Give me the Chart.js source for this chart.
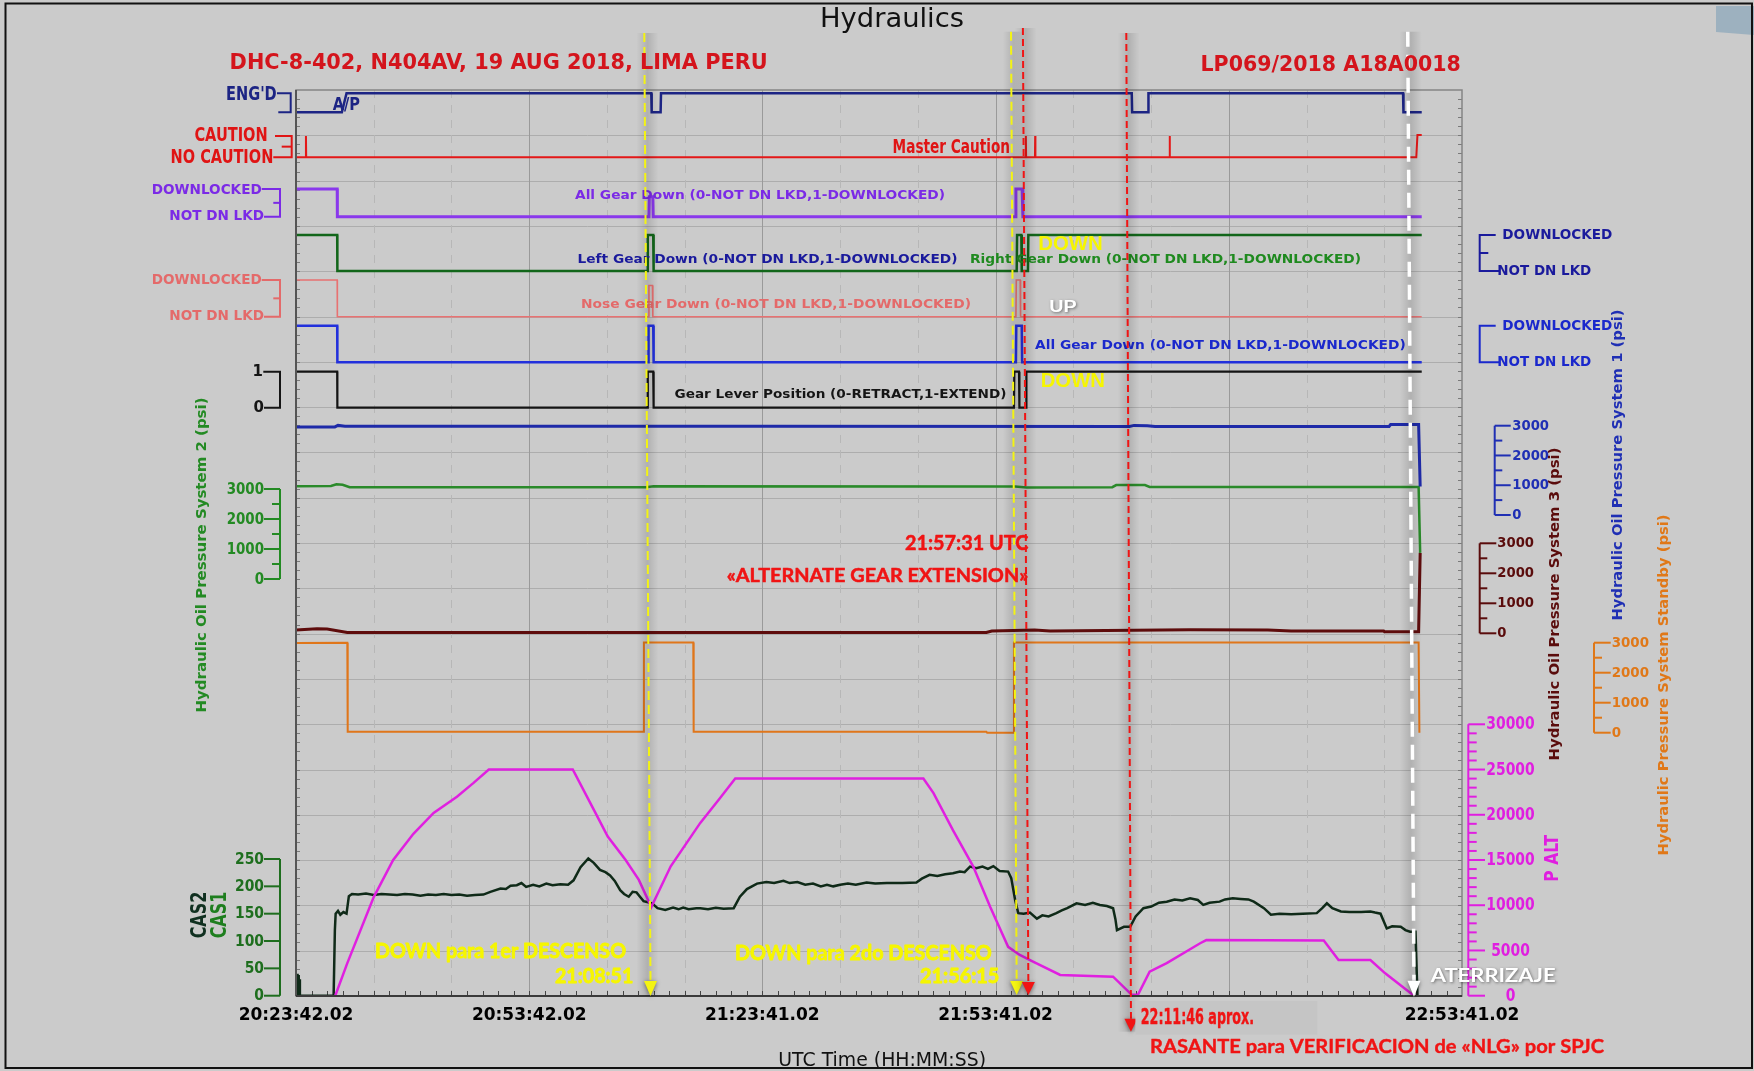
<!DOCTYPE html>
<html>
<head>
<meta charset="utf-8">
<title>Hydraulics</title>
<script src="https://cdn.jsdelivr.net/npm/chart.js@4.4.1/dist/chart.umd.min.js"></script>
<style>
  html, body { margin: 0; padding: 0; background: #cbcbcb; }
  canvas { display: block; }
</style>
</head>
<body>
<canvas id="hydChart" width="1754" height="1071"></canvas>
<script>
// ---- data: time in minutes after 20:23:42.02 UTC ----
const tickMinutes = [0, 30, 59.98, 89.98, 119.98, 149.98];
const tickLabels = ['20:23:42.02', '20:53:42.02', '21:23:41.02', '21:53:41.02', '22:23:41.02', '22:53:41.02'];

// discrete channels [minute, state]
const apEngaged = [[0,0],[5.9,0],[6.5,1],[45.7,1],[45.75,0],[46.9,0],[46.95,1],[107.5,1],[107.55,0],[109.6,0],[109.65,1],[142.4,1],[142.45,0],[144.8,0]];
const masterCaution = [[0,0],[1.25,0],[1.28,1],[1.31,0],[93.85,0],[93.88,1],[93.91,0],[95.05,0],[95.08,1],[95.11,0],[112.35,0],[112.38,1],[112.41,0],[144.1,0],[144.25,1.05],[144.8,1.05]];
const allGearDownA = [[0,1],[5.3,1],[5.32,0],[45.4,0],[45.45,0.72],[45.9,0.72],[45.95,0],[92.5,0],[92.6,1],[93.4,1],[93.5,0],[144.8,0]];
const leftGearDown = [[0,1],[5.3,1],[5.32,0],[45.2,0],[45.25,1],[45.95,1],[46.0,0],[92.7,0],[92.75,1],[93.3,1],[93.35,0],[94.15,0],[94.2,1],[144.8,1]];
const noseGearDown = [[0,1],[5.3,1],[5.32,0],[45.35,0],[45.4,0.85],[45.85,0.85],[45.9,0],[92.6,0],[92.65,1],[93.15,1],[93.2,0],[144.8,0]];
const allGearDownB = [[0,1],[5.3,1],[5.32,0],[45.3,0],[45.35,1],[45.95,1],[46.0,0],[92.6,0],[92.65,1],[93.35,1],[93.4,0],[144.8,0]];
const gearLever = [[0,1],[5.3,1],[5.32,0],[45.2,0],[45.25,1],[45.95,1],[46.0,0],[92.35,0],[92.4,1],[93.0,1],[93.05,0],[93.9,0],[93.95,1],[144.8,1]];

// hydraulic pressures (psi)
const sys1Pressure = [[0,2960],[5.0,2960],[5.4,3010],[6.3,2980],[60,2980],[107.2,2975],[107.8,3010],[109.5,3000],[110.5,2975],[140.6,2975],[140.8,3040],[144.4,3040],[144.6,960]];
const sys2Pressure = [[0,3090],[4.5,3100],[5.2,3160],[6.0,3140],[6.9,3060],[45,3060],[46,3090],[92.5,3080],[94,3050],[105,3060],[105.5,3130],[109.2,3130],[109.8,3070],[144.4,3070],[144.6,870]];
const sys3Pressure = [[0,110],[2.7,150],[4.0,140],[6.6,25],[88.8,25],[89.5,75],[95,110],[97,80],[115,120],[125,110],[128,80],[139.9,80],[140,55],[144.4,55],[144.6,2680]];
const standbyPressure = [[0,2990],[6.6,3000],[6.65,30],[44.7,30],[44.75,3010],[51.1,3010],[51.15,30],[88.8,30],[88.9,0],[92.3,0],[92.35,3010],[144.4,3010],[144.5,0]];

// pressure altitude (ft) and airspeed (kt)
const pressureAltitude = [[5.05,0],[6.6,3600],[10.0,10900],[12.5,15000],[15.1,17900],[17.7,20200],[20.7,22000],[22.8,23500],[24.8,25000],[35.6,25000],[38.4,20400],[40.1,17600],[42.4,15000],[44.1,12800],[45.7,9800],[48.2,14300],[52.0,19100],[54.5,21800],[56.5,24000],[80.7,24000],[82.0,22400],[84.5,18300],[87.1,14300],[89.3,9800],[91.6,5400],[93.1,4500],[94.8,3760],[98.3,2300],[105.1,2100],[107.5,100],[108.3,100],[109.8,2650],[112.0,3600],[116.3,5800],[117.1,6150],[132.2,6100],[134.1,3950],[138.2,3950],[140.1,2470],[143.8,0]];
const airspeed = [[0,0],[0.12,0],[0.15,40],[0.2,0],[0.3,38],[0.35,0],[0.45,30],[0.5,0],[4.84,0],[5.0,120],[5.1,150],[5.4,155],[5.7,148],[6.1,153],[6.5,150],[6.8,182],[7.2,186],[8,185],[9,187],[10,184],[11,186],[12,185],[13,184],[14,186],[15,185],[16,183],[17,185],[18,184],[19,186],[20,184],[21,185],[22,183],[23,184],[24.1,185],[25,190],[26.3,196],[27,195],[27.6,201],[28.4,202],[29,206],[29.6,199],[30.5,203],[31.3,200],[32.2,205],[33,202],[34,204],[35,203],[35.7,211],[36.6,235],[37.6,251],[38.3,243],[39.1,230],[39.8,226],[40.4,220],[41.0,210],[41.7,193],[42.2,186],[42.8,181],[43.3,190],[43.8,189],[44.3,180],[44.7,173],[45.3,171],[45.8,169],[46.5,160],[47.5,157],[48.5,161],[49.2,158],[49.8,161],[50.5,158],[51.5,160],[52.0,160],[53,158],[54,161],[55,159],[56.3,160],[57.1,181],[58,195],[59.3,205],[60.5,208],[61.5,206],[62.7,210],[63.5,206],[64.5,208],[65.5,203],[66.5,205],[67.5,200],[68.3,203],[69.1,200],[70,203],[71,205],[72,203],[73.4,207],[74.5,205],[76,206],[78,206],[79.8,207],[80.5,214],[81.5,221],[82.5,219],[83.5,222],[84.5,224],[85.4,227],[86.0,226],[86.7,236],[87.5,233],[88.3,236],[89,232],[89.7,237],[90.5,228],[91.6,227],[92.0,215],[92.5,175],[92.9,151],[93.6,150],[94.4,152],[95.3,141],[96,147],[96.8,145],[97.8,151],[98.5,156],[99.2,160],[100.4,169],[101.5,166],[102.5,170],[103.4,166],[104.3,164],[105.1,160],[105.4,140],[105.6,120],[106.5,126],[107.3,126],[108.0,145],[109.0,160],[110,163],[111,170],[112,172],[113,176],[114,174],[115,178],[116,175],[116.7,166],[117.5,170],[118.8,172],[119.5,176],[120.5,178],[121.5,177],[122.5,176],[123.2,172],[124.5,160],[125.4,148],[126.5,150],[128,149],[129.5,150],[131.3,151],[132.0,160],[132.6,169],[133.3,160],[134.4,154],[135.5,153],[137,153],[138.2,154],[138.8,152],[139.5,150],[140.3,123],[141,127],[142.1,126],[142.7,120],[143.3,117],[144.0,117],[144.25,0]];

// axis tick values
const psiTicks = [0, 1000, 2000, 3000];
const psiMinor = [500, 1500, 2500];
const casTicks = [0, 50, 100, 150, 200, 250];
const altTicks = [0, 5000, 10000, 15000, 20000, 25000, 30000];
const altMinor = [1000,2000,3000,4000,6000,7000,8000,9000,11000,12000,13000,14000,16000,17000,18000,19000,21000,22000,23000,24000,26000,27000,28000,29000];

// event markers (minutes): top and foot of each dashed arrow
const markerTop = [44.8, 91.97, 93.5, 106.8, 143.0];
const markerFoot = [45.6, 92.7, 94.2, 107.4, 143.8];

// ---- layout: where each channel sits on the page (value, pixel, value, pixel) ----
const PLOT = { left: 296, right: 1462, top: 90, bottom: 996 };
const bands = {
  engd:    [0, 112.3, 1, 93.3],
  caution: [0, 157.3, 1, 136],
  gearA:   [0, 216.7, 1, 189],
  left:    [0, 271, 1, 235],
  nose:    [0, 316.7, 1, 280],
  gearB:   [0, 362.3, 1, 325.7],
  lever:   [0, 407.7, 1, 371.7],
  sys1:    [0, 515, 3000, 425.7],
  sys2:    [0, 579, 3000, 489],
  sys3:    [0, 633.3, 3000, 543.3],
  stby:    [0, 732.7, 3000, 642.7],
  palt:    [0, 995.7, 30000, 724.3],
  cas:     [0, 995.7, 250, 859]
};

const scales = {
  x: {
    type: 'linear', min: 0, max: 149.98,
    grid: { display: false, drawTicks: false },
    border: { display: false },
    ticks: {
      autoSkip: false, maxRotation: 0, padding: 9, color: '#000',
      font: { family: 'DejaVu Sans', size: 17, weight: 'bold' },
      callback: (v, i) => tickLabels[i]
    },
    afterBuildTicks: s => { s.ticks = tickMinutes.map(v => ({ value: v })); },
    afterFit: s => { s.height = 75; }
  },
  yg: { type: 'linear', display: false, min: 0, max: 20 }
};
Object.entries(bands).forEach(([id, [v0, p0, v1, p1]]) => {
  const k = (p0 - p1) / (v1 - v0);
  scales[id] = { type: 'linear', display: false, min: v0 - (PLOT.bottom - p0) / k, max: v0 + (p0 - PLOT.top) / k };
});

const series = [
  { name: 'A/P', pts: apEngaged, axis: 'engd', color: '#1c2484', width: 2.5 },
  { name: 'Master Caution', pts: masterCaution, axis: 'caution', color: '#e41818', width: 2 },
  { name: 'All Gear Down', pts: allGearDownA, axis: 'gearA', color: '#8a38ec', width: 3 },
  { name: 'Left Gear Down', pts: leftGearDown, axis: 'left', color: '#12661a', width: 2.5 },
  { name: 'Nose Gear Down', pts: noseGearDown, axis: 'nose', color: '#e87272', width: 1.6 },
  { name: 'All Gear Down B', pts: allGearDownB, axis: 'gearB', color: '#2230dc', width: 2.5 },
  { name: 'Gear Lever', pts: gearLever, axis: 'lever', color: '#141414', width: 2.2 },
  { name: 'Hyd Sys 1', pts: sys1Pressure, axis: 'sys1', color: '#1e2aa8', width: 3 },
  { name: 'Hyd Sys 2', pts: sys2Pressure, axis: 'sys2', color: '#2a8a2a', width: 2.5 },
  { name: 'Hyd Sys 3', pts: sys3Pressure, axis: 'sys3', color: '#5e0c0c', width: 3 },
  { name: 'Hyd Standby', pts: standbyPressure, axis: 'stby', color: '#e0761a', width: 2 },
  { name: 'P ALT', pts: pressureAltitude, axis: 'palt', color: '#e020e0', width: 2.5 },
  { name: 'CAS', pts: airspeed, axis: 'cas', color: '#0f2a18', width: 2.5 }
];

// ---- drawing helpers ----
const NARROW = '"Liberation Sans Narrow", "DejaVu Sans Condensed", sans-serif';
const DV = '"DejaVu Sans", sans-serif';
const LATO = 'Lato, "Open Sans", sans-serif';
const LS = '"Liberation Sans", Arial, sans-serif';
const F = (size, weight, fam) => `${weight} ${size}px ${fam}`;

function put(ctx, s, x, y, o) {
  ctx.save();
  ctx.font = o.font;
  ctx.fillStyle = o.color;
  ctx.textBaseline = 'middle';
  ctx.textAlign = o.align || 'left';
  ctx.translate(x, y);
  if (o.rot) ctx.rotate(o.rot);
  const m = ctx.measureText(s).width;
  const sx = o.sx || (o.w ? o.w / m : 1);
  ctx.scale(sx, 1);
  if (o.shadow) {
    ctx.shadowColor = o.shadow; ctx.shadowBlur = 3; ctx.shadowOffsetX = 1; ctx.shadowOffsetY = 1;
  }
  ctx.fillText(s, 0, 0);
  if (o.stroke) {
    ctx.shadowColor = 'transparent';
    ctx.strokeStyle = o.color; ctx.lineWidth = o.stroke; ctx.lineJoin = 'round';
    ctx.strokeText(s, 0, 0);
  }
  ctx.restore();
}

function seg(ctx, x0, y0, x1, y1) {
  ctx.beginPath(); ctx.moveTo(x0, y0); ctx.lineTo(x1, y1); ctx.stroke();
}

function sideAxis(ctx, sc, o) {
  const yTop = sc.getPixelForValue(o.major[o.major.length - 1]);
  const yBot = sc.getPixelForValue(o.major[0]);
  ctx.save();
  ctx.strokeStyle = o.color; ctx.lineWidth = 2;
  seg(ctx, o.x, yTop, o.x, yBot);
  o.major.forEach(v => { const y = sc.getPixelForValue(v); seg(ctx, o.x, y, o.x + o.dir * o.len, y); });
  (o.minor || []).forEach(v => { const y = sc.getPixelForValue(v); seg(ctx, o.x, y, o.x + o.dir * o.mlen, y); });
  ctx.font = o.font;
  const widest = String(o.major[o.major.length - 1]);
  const sx = o.w / ctx.measureText(widest).width;
  o.major.forEach(v => {
    put(ctx, String(v), o.lx, sc.getPixelForValue(v) + 0.5, { font: o.font, color: o.color, align: o.align, sx });
  });
  ctx.restore();
}

function bracket(ctx, sc, o) {
  const p1 = sc.getPixelForValue(1), p0 = sc.getPixelForValue(0);
  ctx.save();
  ctx.strokeStyle = o.color; ctx.lineWidth = 2;
  ctx.beginPath();
  ctx.moveTo(o.top, p1); ctx.lineTo(o.x, p1); ctx.lineTo(o.x, p0); ctx.lineTo(o.bot, p0);
  ctx.stroke();
  if (o.mid) seg(ctx, o.x, (p0 + p1) / 2, o.mid, (p0 + p1) / 2);
  ctx.restore();
}

const markerStyle = [
  { color: '#f4f412', dash: [9, 5], width: 2, top: 33, tip: 996, head: 15 },
  { color: '#f4f412', dash: [9, 5], width: 2, top: 31.7, tip: 995, head: 14 },
  { color: '#f01414', dash: [7, 4], width: 2, top: 28, tip: 995, head: 13 },
  { color: '#f01414', dash: [7, 4], width: 2, top: 33, tip: 1031.7, head: 13 },
  { color: '#ffffff', dash: [15, 8], width: 3.5, top: 31.7, tip: 996.7, head: 16 }
];

const deco = {
  id: 'deco',
  beforeDraw(chart) {
    const ctx = chart.ctx;
    ctx.save();
    ctx.fillStyle = '#cbcbcb';
    ctx.fillRect(0, 0, chart.width, chart.height);
    ctx.restore();
  },
  beforeDatasetsDraw(chart) {
    const { ctx, chartArea: a, scales: s } = chart;
    const X = v => s.x.getPixelForValue(v);
    ctx.save();
    ctx.lineWidth = 1;
    ctx.strokeStyle = '#adadad';
    for (let k = 1; k < 20; k++) {
      const y = Math.round(s.yg.getPixelForValue(k)) + 0.5;
      seg(ctx, a.left, y, a.right, y);
    }
    ctx.setLineDash([8, 7]);
    ctx.strokeStyle = '#b7b7b7';
    for (let t = 10; t < 150; t += 10) {
      if (t % 30 === 0) continue;
      const x = Math.round(X(t)) + 0.5;
      seg(ctx, x, a.top, x, a.bottom);
    }
    ctx.setLineDash([]);
    ctx.strokeStyle = '#9a9a9a';
    tickMinutes.slice(1, -1).forEach(t => {
      const x = Math.round(X(t)) + 0.5;
      seg(ctx, x, a.top, x, a.bottom);
    });
    // little ticks along the frame of the plot
    ctx.strokeStyle = '#7a7a7a';
    for (let k = 1; k < 100; k++) {
      const y = Math.round(s.yg.getPixelForValue(k / 5)) + 0.5;
      seg(ctx, a.left, y, a.left + 4, y);
      seg(ctx, a.right - 4, y, a.right, y);
    }
    ctx.strokeStyle = '#444';
    for (let t = 2; t < 150; t += 2) {
      const x = Math.round(X(t)) + 0.5;
      seg(ctx, x, a.bottom - 5, x, a.bottom);
    }
    ctx.restore();
  },
  afterDatasetsDraw(chart) {
    const { ctx, chartArea: a, scales: s } = chart;
    const X = v => s.x.getPixelForValue(v);
    ctx.save();
    // plot frame
    ctx.lineWidth = 1.5;
    ctx.strokeStyle = '#858585';
    ctx.strokeRect(a.left, a.top, a.right - a.left, a.bottom - a.top);
    ctx.lineWidth = 2;
    ctx.strokeStyle = '#555';
    seg(ctx, a.left, a.top, a.left, a.bottom);
    ctx.strokeStyle = '#3a3a3a';
    seg(ctx, a.left, a.bottom, a.right, a.bottom);

    // left discrete labels
    bracket(ctx, s.engd, { x: 290.7, top: 277, bot: 278.3, color: '#1c2484' });
    put(ctx, "ENG'D", 276.7, 95, { font: F(19, 'bold', NARROW), color: '#1c2484', align: 'right', w: 50.7 });
    bracket(ctx, s.caution, { x: 291.7, top: 275, bot: 273.3, mid: 281.7, color: '#e01414' });
    put(ctx, 'CAUTION', 267.7, 136, { font: F(20, 'bold', NARROW), color: '#e01414', align: 'right', w: 73.3 });
    put(ctx, 'NO CAUTION', 273.3, 158, { font: F(20, 'bold', NARROW), color: '#e01414', align: 'right', w: 102.7 });
    bracket(ctx, s.gearA, { x: 280, top: 261.7, bot: 264, mid: 273.3, color: '#7b2ae6' });
    put(ctx, 'DOWNLOCKED', 261.7, 190, { font: F(14, 'bold', DV), color: '#7b2ae6', align: 'right', w: 110 });
    put(ctx, 'NOT DN LKD', 264, 216.7, { font: F(14, 'bold', DV), color: '#7b2ae6', align: 'right', w: 94.7 });
    bracket(ctx, s.nose, { x: 280, top: 261.7, bot: 264, mid: 273.3, color: '#e46a6a' });
    put(ctx, 'DOWNLOCKED', 261.7, 280.7, { font: F(14, 'bold', DV), color: '#e46a6a', align: 'right', w: 110 });
    put(ctx, 'NOT DN LKD', 264, 316.7, { font: F(14, 'bold', DV), color: '#e46a6a', align: 'right', w: 94.7 });
    bracket(ctx, s.lever, { x: 280, top: 263.3, bot: 264, color: '#151515' });
    put(ctx, '1', 263, 371.7, { font: F(15, 'bold', DV), color: '#151515', align: 'right' });
    put(ctx, '0', 264, 408.3, { font: F(15, 'bold', DV), color: '#151515', align: 'right' });

    // right discrete labels
    bracket(ctx, s.left, { x: 1479.7, top: 1495.7, bot: 1499, mid: 1488.3, color: '#1a1a9c' });
    put(ctx, 'DOWNLOCKED', 1502.3, 235.7, { font: F(14, 'bold', DV), color: '#1a1a9c', w: 110 });
    put(ctx, 'NOT DN LKD', 1497.3, 271.7, { font: F(14, 'bold', DV), color: '#1a1a9c', w: 94 });
    bracket(ctx, s.gearB, { x: 1479.7, top: 1495.7, bot: 1499, color: '#1a28cc' });
    put(ctx, 'DOWNLOCKED', 1502.3, 326.7, { font: F(14, 'bold', DV), color: '#1a28cc', w: 110 });
    put(ctx, 'NOT DN LKD', 1497.3, 362.3, { font: F(14, 'bold', DV), color: '#1a28cc', w: 94 });

    // value axes
    sideAxis(ctx, s.sys2, { x: 280, dir: -1, major: psiTicks, minor: psiMinor, len: 16, mlen: 8, color: '#238a23', font: F(16, 'bold', DV), lx: 264, align: 'right', w: 37.3 });
    sideAxis(ctx, s.cas, { x: 280, dir: -1, major: casTicks, len: 16, color: '#1e6e1e', font: F(16, 'bold', DV), lx: 264, align: 'right', w: 29 });
    sideAxis(ctx, s.sys1, { x: 1494.7, dir: 1, major: psiTicks, minor: psiMinor, len: 16, mlen: 7.6, color: '#1f2fb4', font: F(14, 'bold', DV), lx: 1512.3, align: 'left', w: 36.7 });
    sideAxis(ctx, s.sys3, { x: 1479.7, dir: 1, major: psiTicks, minor: psiMinor, len: 16.6, mlen: 7.6, color: '#5a0c0c', font: F(14, 'bold', DV), lx: 1497.3, align: 'left', w: 36.7 });
    sideAxis(ctx, s.stby, { x: 1594, dir: 1, major: psiTicks, minor: psiMinor, len: 16.7, mlen: 8, color: '#e07818', font: F(14, 'bold', DV), lx: 1611.7, align: 'left', w: 37.3 });
    sideAxis(ctx, s.palt, { x: 1468.3, dir: 1, major: altTicks, minor: altMinor, len: 16.7, mlen: 8.4, color: '#e01ee0', font: F(18, 'bold', DV), lx: 1510.5, align: 'center', w: 48.4 });

    const R = -Math.PI / 2;
    put(ctx, 'Hydraulic Oil Pressure System 2 (psi)', 202.5, 555, { font: F(14, 'bold', DV), color: '#238a23', align: 'center', rot: R, w: 315 });
    put(ctx, 'CAS2', 200, 915, { font: F(22, 'bold', NARROW), color: '#103020', align: 'center', rot: R, w: 46.7 });
    put(ctx, 'CAS1', 220, 915, { font: F(22, 'bold', NARROW), color: '#1e7e1e', align: 'center', rot: R, w: 46.7 });
    put(ctx, 'Hydraulic Oil Pressure System 1 (psi)', 1618.6, 465, { font: F(14, 'bold', DV), color: '#1f2fb4', align: 'center', rot: R, w: 311 });
    put(ctx, 'Hydraulic Oil Pressure System 3 (psi)', 1555, 604, { font: F(14, 'bold', DV), color: '#5a0c0c', align: 'center', rot: R, w: 313 });
    put(ctx, 'Hydraulic Pressure System Standby (psi)', 1664.5, 685, { font: F(14, 'bold', DV), color: '#e07818', align: 'center', rot: R, w: 341 });
    put(ctx, 'P ALT', 1552.3, 858.3, { font: F(20, 'bold', DV), color: '#e01ee0', align: 'center', rot: R, w: 46.7 });

    // channel captions inside the plot
    put(ctx, 'A/P', 332.7, 105, { font: F(18, 'bold', NARROW), color: '#1c2484', w: 27.3 });
    put(ctx, 'Master Caution', 892.6, 147.3, { font: F(20, 'bold', NARROW), color: '#e01414', w: 117.4 });
    const cap = F(13, 'bold', DV);
    put(ctx, 'All Gear Down (0-NOT DN LKD,1-DOWNLOCKED)', 575, 196, { font: cap, color: '#7b2ae6', w: 370 });
    put(ctx, 'Left Gear Down (0-NOT DN LKD,1-DOWNLOCKED)', 577.5, 259.3, { font: cap, color: '#1a1a9c', w: 380 });
    put(ctx, 'Right Gear Down (0-NOT DN LKD,1-DOWNLOCKED)', 970, 259.3, { font: cap, color: '#1f8a1f', w: 391 });
    put(ctx, 'Nose Gear Down (0-NOT DN LKD,1-DOWNLOCKED)', 581, 305, { font: cap, color: '#e46a6a', w: 390 });
    put(ctx, 'All Gear Down (0-NOT DN LKD,1-DOWNLOCKED)', 1035, 346, { font: cap, color: '#1a28cc', w: 370.7 });
    put(ctx, 'Gear Lever Position (0-RETRACT,1-EXTEND)', 674.5, 395, { font: cap, color: '#151515', w: 332 });

    // event markers
    markerTop.forEach((t0, i) => {
      const st = markerStyle[i];
      const x0 = X(t0), x1 = X(markerFoot[i]);
      const xm = (x0 + x1) / 2;
      const gr = ctx.createLinearGradient(xm - 11, 0, xm + 11, 0);
      gr.addColorStop(0, 'rgba(0,0,0,0)');
      gr.addColorStop(0.5, 'rgba(0,0,0,0.13)');
      gr.addColorStop(1, 'rgba(0,0,0,0)');
      ctx.fillStyle = gr;
      ctx.fillRect(xm - 11, st.top, 22, st.tip - st.top);
      ctx.strokeStyle = st.color;
      ctx.lineWidth = st.width;
      ctx.setLineDash(st.dash);
      seg(ctx, x0, st.top, x1, st.tip - st.head);
      ctx.setLineDash([]);
      ctx.save();
      ctx.shadowColor = 'rgba(0,0,0,0.45)'; ctx.shadowBlur = 4; ctx.shadowOffsetY = 1;
      ctx.fillStyle = st.color;
      ctx.beginPath();
      ctx.moveTo(x1 - 6.5, st.tip - st.head);
      ctx.lineTo(x1 + 6.5, st.tip - st.head);
      ctx.lineTo(x1, st.tip);
      ctx.closePath();
      ctx.fill();
      ctx.restore();
    });

    const sh = 'rgba(0,0,0,0.45)';
    const yel = '#f6f600';
    put(ctx, 'DOWN', 1038.3, 244.3, { font: F(21, 'bold', LS), color: yel, w: 64.4 });
    put(ctx, 'UP', 1049.3, 307.3, { font: F(16, 'bold', LS), color: '#ffffff', w: 27.4, shadow: sh });
    put(ctx, 'DOWN', 1040.7, 381.7, { font: F(21, 'bold', LS), color: yel, w: 64.3 });
    put(ctx, '21:57:31 UTC', 905, 544, { font: F(20, 'bold', LATO), color: '#f01414', w: 123.3, stroke: 0.5 });
    put(ctx, '«ALTERNATE GEAR EXTENSION»', 726.7, 576, { font: F(19, 'bold', LATO), color: '#f01414', w: 301.6, stroke: 0.5 });
    put(ctx, 'DOWN para 1er DESCENSO', 375, 951.7, { font: F(20, 'bold', LATO), color: yel, w: 251, stroke: 0.8 });
    put(ctx, '21:08:51', 555, 976.7, { font: F(20, 'bold', LATO), color: yel, w: 78.3, stroke: 0.8 });
    put(ctx, 'DOWN para 2do DESCENSO', 735, 954, { font: F(20, 'bold', LATO), color: yel, w: 256.7, stroke: 0.8 });
    put(ctx, '21:56:15', 920, 976.7, { font: F(20, 'bold', LATO), color: yel, w: 79.3, stroke: 0.8 });
    put(ctx, 'ATERRIZAJE', 1430.7, 976, { font: F(19, 'bold', LATO), color: '#ffffff', w: 125, shadow: sh });
    ctx.restore();
  },
  afterDraw(chart) {
    const ctx = chart.ctx;
    ctx.save();
    // titles
    put(ctx, 'Hydraulics', 892, 20, { font: F(26, 'normal', DV), color: '#111', align: 'center', w: 144 });
    put(ctx, 'DHC-8-402, N404AV, 19 AUG 2018, LIMA PERU', 229.6, 63, { font: F(22, 'bold', NARROW), color: '#d4141c', w: 538 });
    put(ctx, 'LP069/2018 A18A0018', 1200.5, 65, { font: F(22, 'bold', NARROW), color: '#d4141c', w: 260.3 });

    // note under the time axis
    ctx.fillStyle = '#c5c5c5';
    ctx.fillRect(1135.4, 1001, 182, 33.7);
    put(ctx, '22:11:46 aprox.', 1140.7, 1018.3, { font: F(22, 'bold', NARROW), color: '#f01414', w: 113.3, stroke: 0.4 });
    put(ctx, 'RASANTE para VERIFICACION de «NLG» por SPJC', 1150, 1046.7, { font: F(19, 'bold', LATO), color: '#f01414', w: 454, stroke: 0.4 });

    ctx.save();
    ctx.beginPath();
    ctx.rect(0, 0, chart.width, 1067);
    ctx.clip();
    put(ctx, 'UTC Time (HH:MM:SS)', 778.3, 1061, { font: F(19, 'normal', DV), color: '#111', w: 207.7 });
    ctx.restore();

    // corner tab and outer frame
    ctx.fillStyle = '#9db1bf';
    ctx.beginPath();
    ctx.moveTo(1716, 6); ctx.lineTo(1754, 6); ctx.lineTo(1754, 35); ctx.lineTo(1716, 32);
    ctx.closePath();
    ctx.fill();
    ctx.strokeStyle = '#111';
    ctx.lineWidth = 2;
    ctx.strokeRect(5.5, 3.5, 1746.5, 1064.5);
    ctx.restore();
  }
};

new Chart(document.getElementById('hydChart'), {
  type: 'line',
  data: {
    datasets: series.map(s => ({
      label: s.name,
      data: s.pts.map(([x, y]) => ({ x, y })),
      yAxisID: s.axis,
      borderColor: s.color,
      borderWidth: s.width,
      pointRadius: 0,
      fill: false,
      tension: 0
    }))
  },
  options: {
    responsive: false,
    maintainAspectRatio: false,
    devicePixelRatio: 1,
    animation: false,
    events: [],
    layout: { padding: { left: PLOT.left, right: 1754 - PLOT.right, top: PLOT.top, bottom: 0 } },
    scales,
    plugins: { legend: { display: false }, tooltip: { enabled: false } }
  },
  plugins: [deco]
});
</script>
</body>
</html>
